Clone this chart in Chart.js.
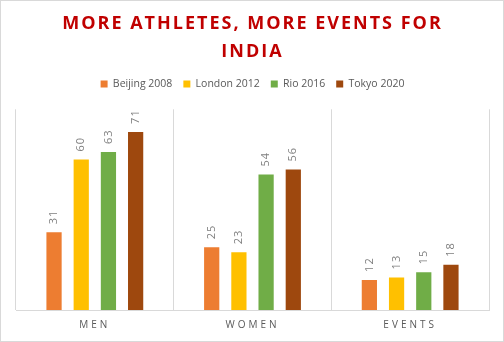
<!DOCTYPE html>
<html>
<head>
<meta charset="utf-8">
<script src="https://cdn.jsdelivr.net/npm/chart.js@4"></script>
<style>
  html, body { margin: 0; padding: 0; background: #fff; }
  #wrap { width: 504px; height: 342px; box-sizing: border-box; border: 1px solid #d9d9d9; }
</style>
</head>
<body>
<div id="wrap"><canvas id="chart" width="502" height="340"></canvas></div>
<script>
const categories = ["MEN", "WOMEN", "EVENTS"];
const seriesNames = ["Beijing 2008", "London 2012", "Rio 2016", "Tokyo 2020"];
const beijing = [31, 25, 12];
const london = [60, 23, 13];
const rio = [63, 54, 15];
const tokyo = [71, 56, 18];
const colors = ["#ED7D31", "#FFC000", "#70AD47", "#9E480E"];

// letter spacing for the title and the category labels,
// plus some room under the legend
const spacing = {
  id: "spacing",
  beforeLayout(chart) {
    [chart.titleBlock, chart.scales.x].forEach((box) => {
      if (!box || box._spaced) return;
      const draw = box.draw;
      const gap = box === chart.titleBlock ? "2px" : "3px";
      box.draw = function (area) {
        chart.ctx.save();
        chart.ctx.letterSpacing = gap;
        draw.call(this, area);
        chart.ctx.restore();
      };
      box._spaced = true;
    });
    const legend = chart.legend;
    if (legend && !legend._spaced) {
      const fit = legend.fit;
      legend.fit = function () {
        fit.call(this);
        this.height += 10;
      };
      legend._spaced = true;
    }
  },
};

// value labels, rotated, above each bar
const barLabels = {
  id: "barLabels",
  afterDatasetsDraw(chart) {
    const ctx = chart.ctx;
    ctx.save();
    ctx.font = "11px 'Open Sans'";
    ctx.fillStyle = "#7f7f7f";
    ctx.letterSpacing = "1px";
    ctx.textAlign = "left";
    ctx.textBaseline = "middle";
    chart.data.datasets.forEach((ds, i) => {
      chart.getDatasetMeta(i).data.forEach((bar, j) => {
        ctx.save();
        ctx.translate(bar.x, bar.y - 8);
        ctx.rotate(-Math.PI / 2);
        ctx.fillText(ds.data[j], 0, 0);
        ctx.restore();
      });
    });
    ctx.restore();
  },
};

const values = [beijing, london, rio, tokyo];

new Chart(document.getElementById("chart"), {
  type: "bar",
  data: {
    labels: categories,
    datasets: seriesNames.map((name, i) => ({
      label: name,
      data: values[i],
      backgroundColor: colors[i],
      categoryPercentage: 0.69,
      barPercentage: 0.56,
    })),
  },
  options: {
    responsive: false,
    animation: false,
    layout: { padding: { left: 15, right: 14, bottom: 1, top: 9 } },
    plugins: {
      title: {
        display: true,
        text: ["MORE ATHLETES, MORE EVENTS FOR", "INDIA"],
        color: "#C00000",
        font: { family: "'Open Sans'", size: 18, weight: "bold", lineHeight: 1.55 },
        padding: { top: 0, bottom: 2 },
      },
      legend: {
        position: "top",
        labels: {
          boxWidth: 7,
          boxHeight: 7,
          color: "#595959",
          font: { family: "'Open Sans'", size: 10.5 },
          padding: 11,
        },
      },
      tooltip: { enabled: false },
    },
    scales: {
      x: {
        grid: { color: "#d9d9d9", drawTicks: false },
        border: { color: "#d9d9d9" },
        ticks: { color: "#595959", font: { family: "'Open Sans'", size: 10 }, padding: 9 },
      },
      y: {
        display: false,
        min: 0,
        max: 80,
      },
    },
  },
  plugins: [spacing, barLabels],
});
</script>
</body>
</html>
